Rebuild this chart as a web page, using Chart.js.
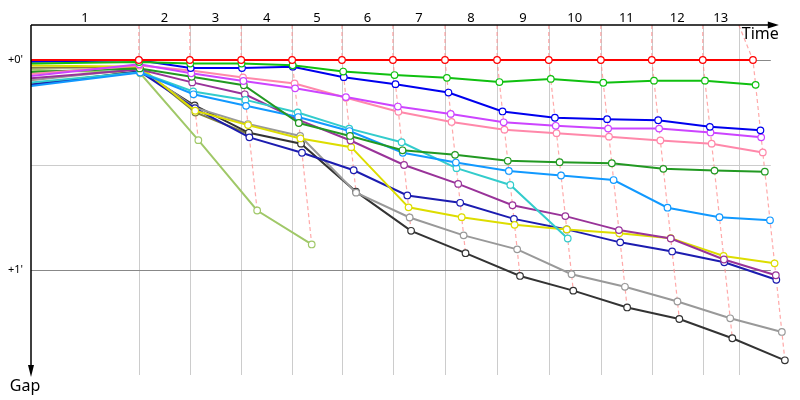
<!DOCTYPE html>
<html>
<head>
<meta charset="utf-8">
<script src="https://cdn.jsdelivr.net/npm/chart.js@4"></script>
<style>
  html, body { margin: 0; padding: 0; background: #fff; }
  canvas { display: block; }
</style>
</head>
<body>
<canvas id="gapChart" width="800" height="400"></canvas>
<script>
// leader's crossing time (s) at the end of each lap, and the final mark
const lapTimes = [290, 427, 565, 702, 836, 973, 1113, 1253, 1392, 1532, 1669, 1806, 1941];
const finishMark = 1903;
const axisEnd = 1989;
const lapLabels = ['1', '2', '3', '4', '5', '6', '7', '8', '9', '10', '11', '12', '13'];
const gapTicks = [0, 60];
const gapTickLabels = ["+0'", "+1'"];
const halfTicks = [30];

// gap to leader (s): start, then end of laps 1..13 (null = retired)
const red         = [0, 0, 0, 0, 0, 0, 0, 0, 0, 0, 0, 0, 0, 0];
const green       = [1.0, 0.6, 1.0, 1.0, 1.5, 3.3, 4.3, 5.1, 6.3, 5.4, 6.5, 5.9, 5.9, 7.1];
const blue        = [0.5, 0.1, 2.3, 2.3, 1.9, 4.9, 6.9, 9.3, 14.7, 16.5, 16.9, 17.2, 19.1, 20.1];
const violet      = [4.6, 1.2, 3.8, 6.0, 8.1, 10.6, 13.3, 15.4, 17.8, 18.8, 19.6, 19.6, 20.7, 22.1];
const pink        = [4.0, 1.6, 3.0, 5.0, 6.7, 10.8, 14.8, 17.7, 19.9, 20.9, 21.9, 23.0, 23.9, 26.4];
const darkGreen   = [3.4, 2.4, 4.8, 7.2, 18.0, 21.7, 25.8, 27.1, 28.8, 29.2, 29.5, 31.1, 31.6, 31.9];
const skyBlue     = [7.4, 3.6, 9.8, 13.1, 16.3, 20.3, 26.5, 29.3, 31.7, 33.0, 34.3, 42.2, 44.9, 45.8];
const cyan        = [6.4, 3.5, 9.0, 11.4, 15.0, 19.6, 23.5, 30.9, 35.7, 51.0, null, null, null, null];
const purple      = [5.2, 2.7, 6.4, 9.8, 17.1, 23.0, 30.0, 35.4, 41.5, 44.6, 48.6, 51.0, 57.0, 61.5];
const yellow      = [1.6, 1.9, 14.5, 18.6, 22.4, 24.9, 42.1, 44.9, 47.1, 48.4, 49.5, 50.9, 56.0, 58.1];
const navy        = [7.1, 3.3, 13.8, 22.1, 26.5, 31.5, 38.7, 40.8, 45.4, 48.4, 52.1, 54.7, 57.8, 62.8];
const grey        = [5.8, 2.5, 13.6, 18.3, 21.7, 37.9, 45.0, 50.1, 54.1, 61.2, 64.8, 69.0, 73.8, 77.7];
const black       = [7.0, 3.2, 13.0, 20.8, 23.9, 37.6, 48.8, 55.2, 61.7, 65.9, 70.7, 74.0, 79.5, 85.8];
const olive       = [2.2, 2.1, 15.0, 21.2, null, null, null, null, null, null, null, null, null, null];
const yellowGreen = [2.8, 3.8, 22.9, 43.0, 52.7, null, null, null, null, null, null, null, null, null];

const drivers = [
    { gaps: red, color: '#ff0000' },
    { gaps: green, color: '#10c010' },
    { gaps: blue, color: '#0000ee' },
    { gaps: violet, color: '#cc44ff' },
    { gaps: pink, color: '#ff88aa' },
    { gaps: darkGreen, color: '#229922' },
    { gaps: skyBlue, color: '#1199ff' },
    { gaps: cyan, color: '#33cccc' },
    { gaps: purple, color: '#993399' },
    { gaps: yellow, color: '#dddd00' },
    { gaps: navy, color: '#1c1cb0' },
    { gaps: grey, color: '#999999' },
    { gaps: black, color: '#333333' },
    { gaps: olive, color: '#808040' },
    { gaps: yellowGreen, color: '#a0c868' }
];

// a driver crosses the line at leader's time + gap; the start is at time 0
function toPoints(gaps) {
    const pts = [];
    gaps.forEach((g, i) => {
        if (g === null) return;
        pts.push({ x: i === 0 ? 0 : lapTimes[i - 1] + g, y: g });
    });
    return pts;
}

const FONT = '"Noto Sans", "Liberation Sans", sans-serif';

const gapPlot = {
    id: 'gapPlot',
    beforeDatasetsDraw(chart) {
        const ctx = chart.ctx;
        const area = chart.chartArea;
        const xs = chart.scales.x;
        const ys = chart.scales.y;
        const right = xs.getPixelForValue(axisEnd);
        ctx.save();

        // vertical lap lines
        const bounds = lapTimes.slice(0, 12).concat([finishMark]);
        ctx.strokeStyle = '#cccccc';
        ctx.lineWidth = 1;
        bounds.forEach(t => {
            const px = Math.round(xs.getPixelForValue(t)) + 0.5;
            ctx.beginPath();
            ctx.moveTo(px, area.top);
            ctx.lineTo(px, area.bottom);
            ctx.stroke();
        });

        // horizontal gap lines
        halfTicks.forEach(v => {
            const py = Math.round(ys.getPixelForValue(v)) + 0.5;
            ctx.strokeStyle = '#cccccc';
            ctx.beginPath();
            ctx.moveTo(area.left, py);
            ctx.lineTo(right, py);
            ctx.stroke();
        });
        gapTicks.forEach(v => {
            const py = Math.round(ys.getPixelForValue(v)) + 0.5;
            ctx.strokeStyle = '#888888';
            ctx.beginPath();
            ctx.moveTo(area.left, py);
            ctx.lineTo(right, py);
            ctx.stroke();
        });

        // dashed lines joining each lap's crossing points
        ctx.strokeStyle = 'rgba(255, 140, 140, 0.75)';
        ctx.lineWidth = 1.2;
        ctx.setLineDash([4, 3]);
        for (let lap = 0; lap < lapTimes.length; lap++) {
            const pts = [];
            drivers.forEach(d => {
                const g = d.gaps[lap + 1];
                if (g !== null && g !== undefined) pts.push({ x: lapTimes[lap] + g, y: g });
            });
            pts.sort((a, b) => a.y - b.y);
            const topT = lap < 12 ? lapTimes[lap] : finishMark;
            ctx.beginPath();
            ctx.moveTo(xs.getPixelForValue(topT), area.top);
            pts.forEach(p => ctx.lineTo(xs.getPixelForValue(p.x), ys.getPixelForValue(p.y)));
            ctx.stroke();
        }
        ctx.setLineDash([]);
        ctx.restore();
    },
    afterDraw(chart) {
        const ctx = chart.ctx;
        const area = chart.chartArea;
        const xs = chart.scales.x;
        const ys = chart.scales.y;
        const right = xs.getPixelForValue(axisEnd);
        ctx.save();

        // axes with arrows
        ctx.strokeStyle = '#000';
        ctx.fillStyle = '#000';
        ctx.lineWidth = 1.5;
        ctx.beginPath();
        ctx.moveTo(area.left, area.top);
        ctx.lineTo(right, area.top);
        ctx.moveTo(area.left, area.top);
        ctx.lineTo(area.left, area.bottom - 6);
        ctx.stroke();
        ctx.beginPath();
        ctx.moveTo(right - 3, area.top - 3.5);
        ctx.lineTo(right + 8, area.top);
        ctx.lineTo(right - 3, area.top + 3.5);
        ctx.closePath();
        ctx.fill();
        ctx.beginPath();
        ctx.moveTo(area.left - 3, area.bottom - 10);
        ctx.lineTo(area.left, area.bottom + 2);
        ctx.lineTo(area.left + 3, area.bottom - 10);
        ctx.closePath();
        ctx.fill();

        // lap numbers
        const bounds = [0].concat(lapTimes.slice(0, 12)).concat([finishMark]);
        ctx.font = '13px ' + FONT;
        ctx.textAlign = 'center';
        ctx.textBaseline = 'middle';
        lapLabels.forEach((lbl, i) => {
            const cx = (xs.getPixelForValue(bounds[i]) + xs.getPixelForValue(bounds[i + 1])) / 2;
            ctx.fillText(lbl, cx, 18);
        });

        // gap tick labels
        ctx.font = '11px ' + FONT;
        ctx.textAlign = 'right';
        gapTicks.forEach((v, i) => {
            ctx.fillText(gapTickLabels[i], area.left - 8, ys.getPixelForValue(v));
        });

        // axis titles
        ctx.font = '16px ' + FONT;
        ctx.textAlign = 'right';
        ctx.textBaseline = 'top';
        ctx.fillText('Time', right + 8, 26);
        ctx.textAlign = 'center';
        ctx.fillText('Gap', area.left - 6, 378);
        ctx.restore();
    }
};

new Chart(document.getElementById('gapChart').getContext('2d'), {
    type: 'line',
    data: {
        datasets: drivers.map(d => ({
            data: toPoints(d.gaps),
            borderColor: d.color,
            borderWidth: 2,
            pointBorderColor: d.color,
            pointBackgroundColor: '#ffffff',
            pointBorderWidth: 1.2,
            pointRadius: ctx => ctx.dataIndex === 0 ? 0 : 3.3,
            pointHoverRadius: 3.3,
            tension: 0,
            clip: false
        }))
    },
    options: {
        responsive: false,
        animation: false,
        // plot area runs a little past the drawn axis so the last crossings keep their markers
        layout: { padding: { left: 31, right: 5, top: 25, bottom: 25 } },
        plugins: { legend: { display: false }, tooltip: { enabled: false } },
        scales: {
            x: { type: 'linear', display: false, min: 0, max: 2054 },
            y: { type: 'linear', display: false, min: -10, max: 90, reverse: true }
        }
    },
    plugins: [gapPlot]
});
</script>
</body>
</html>
